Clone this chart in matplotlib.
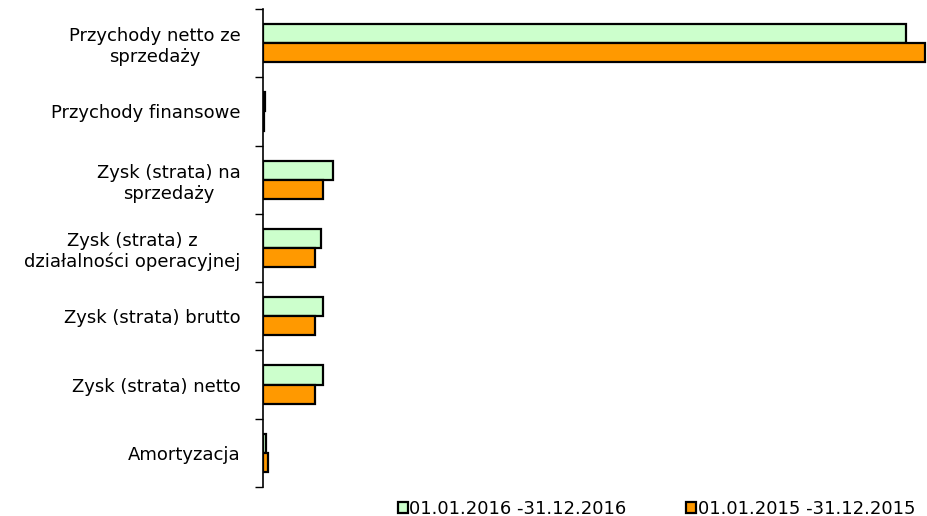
import matplotlib
matplotlib.use('Agg')
import matplotlib.pyplot as plt
import numpy as np

categories = ['Przychody netto ze\nsprzedaży', 'Przychody finansowe', 'Zysk (strata) na\nsprzedaży',
              'Zysk (strata) z\ndziałalności operacyjnej', 'Zysk (strata) brutto',
              'Zysk (strata) netto', 'Amortyzacja']
series_names = ['01.01.2016 -31.12.2016', '01.01.2015 -31.12.2015']
values_2016 = [64400, 200, 7000, 5800, 6000, 6000, 300]
values_2015 = [66300, 100, 6000, 5200, 5200, 5200, 500]
colors = ['#CCFFCC', '#FF9900']

fig = plt.figure(figsize=(9.28, 5.16), dpi=100)
ax = fig.add_axes([0.2834, 0.0562, 0.7156, 0.9264])

y = np.arange(len(categories))
h = 0.28
ax.barh(y - h / 2, values_2016, h, color=colors[0], edgecolor='black', linewidth=1.6, label=series_names[0])
ax.barh(y + h / 2, values_2015, h, color=colors[1], edgecolor='black', linewidth=1.6, label=series_names[1])

ax.set_ylim(len(categories) - 0.5, -0.5)
ax.set_xlim(0, 66500)
ax.set_yticks(y)
ax.set_yticklabels(categories, fontsize=13, multialignment='center')
ax.tick_params(axis='y', which='major', length=0, pad=16)
ax.set_yticks(np.arange(len(categories) + 1) - 0.5, minor=True)
ax.tick_params(axis='y', which='minor', length=6, width=1, direction='out')
ax.set_xticks([])
for s in ['top', 'right', 'bottom']:
  ax.spines[s].set_visible(False)
ax.spines['left'].set_linewidth(1.2)

fig.legend(loc='lower center', bbox_to_anchor=(0.7075, -0.035), ncol=2, frameon=False, fontsize=13,
           handlelength=0.55, handleheight=0.55, handletextpad=0.1, columnspacing=3.3)

plt.savefig('out.png', dpi=100)
